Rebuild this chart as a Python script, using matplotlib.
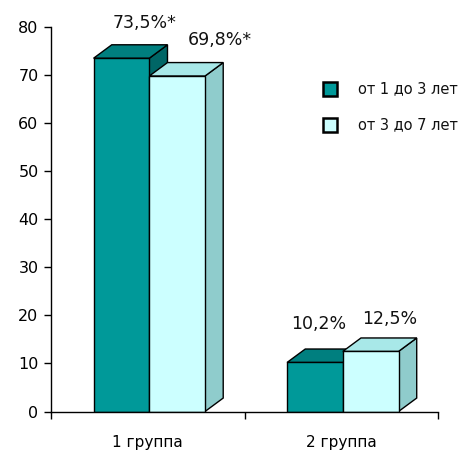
import matplotlib
matplotlib.use("Agg")
import matplotlib.pyplot as plt
from matplotlib.patches import Polygon, Rectangle

# ---- data ----
categories = ["1 группа", "2 группа"]
series_names = ["от 1 до 3 лет", "от 3 до 7 лет"]
values_1_3 = [73.5, 10.2]
values_3_7 = [69.8, 12.5]
labels_1_3 = ["73,5%*", "10,2%"]
labels_3_7 = ["69,8%*", "12,5%"]
yticks = [0, 10, 20, 30, 40, 50, 60, 70, 80]

# ---- style ----
plt.rcParams['font.family'] = ['DejaVu Sans']
face = {"front": ["#009999", "#CCFFFF"],
        "top": ["#007F7F", "#A8E8E8"],
        "side": ["#006666", "#8FCCCC"]}
bar_w = 0.288
shift = 0.008
ddx, ddy = 0.094, 2.8
# label offsets (x rel. to bar left, y rel. to value)
lab_off = [[(0.266, 7.4), (0.165, 8.0)],
           [(0.365, 7.4), (0.244, 6.8)]]  # [series][category]

fig = plt.figure(figsize=(4.68, 4.5), dpi=100)
ax = fig.add_axes([51/468, 38.5/450, 387/468, 384.5/450])
ax.set_xlim(-0.5, 1.5)
ax.set_ylim(0, 80)

series = [values_1_3, values_3_7]
slabels = [labels_1_3, labels_3_7]
for s, vals in enumerate(series):
    for c, v in enumerate(vals):
        x0 = c - bar_w + s * bar_w + shift
        x1 = x0 + bar_w
        front = Rectangle((x0, 0), bar_w, v, facecolor=face["front"][s],
                          edgecolor="black", lw=1.0, zorder=3 + s)
        top = Polygon([(x0, v), (x0 + ddx, v + ddy), (x1 + ddx, v + ddy), (x1, v)],
                      closed=True, facecolor=face["top"][s], edgecolor="black",
                      lw=1.0, zorder=3 + s, clip_on=False)
        side = Polygon([(x1, 0), (x1 + ddx, ddy), (x1 + ddx, v + ddy), (x1, v)],
                       closed=True, facecolor=face["side"][s], edgecolor="black",
                       lw=1.0, zorder=3 + s, clip_on=False)
        for p in (side, top, front):
            ax.add_patch(p)
        ox, oy = lab_off[s][c]
        ax.text(x0 + ox, v + oy, slabels[s][c], ha="center", va="center",
                fontsize=12.5, color="#111111", clip_on=False)

for sp in ("top", "right"):
    ax.spines[sp].set_visible(False)
for sp in ("left", "bottom"):
    ax.spines[sp].set_linewidth(1.0)
    ax.spines[sp].set_zorder(6)

ax.set_yticks(yticks)
ax.set_yticklabels([str(t) for t in yticks], fontsize=11.5)
ax.tick_params(axis="y", direction="out", length=5, width=1, pad=4)
ax.set_xticks([-0.5, 0.5, 1.5])
ax.set_xticklabels([])
ax.tick_params(axis="x", direction="out", length=5, width=1)
ax.set_xticks([0, 1], minor=True)
ax.set_xticklabels(categories, minor=True, fontsize=11)
ax.tick_params(axis="x", which="minor", length=0, pad=17)

# legend (manual)
leg_y = [89, 125]
for s, name in enumerate(series_names):
    yc = leg_y[s]
    fig.patches.append(Rectangle((323/468, (450 - yc - 7)/450), 14/468, 14/450,
                                 transform=fig.transFigure, facecolor=face["front"][s],
                                 edgecolor="black", lw=1.8))
    fig.text(358/468, (450 - yc)/450, name, ha="left", va="center",
             fontsize=10.5, color="#111111")

fig.savefig("out.png", dpi=100)
